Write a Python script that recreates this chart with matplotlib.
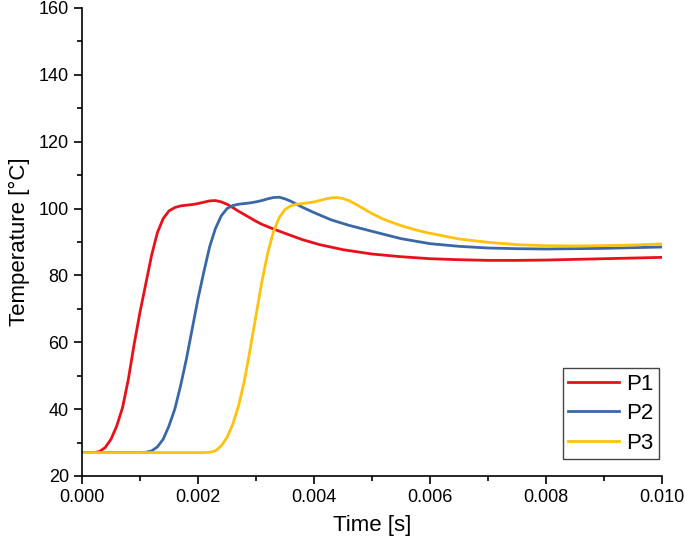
import matplotlib
matplotlib.use('Agg')
from matplotlib import pyplot as plt
from matplotlib.ticker import MultipleLocator, FormatStrFormatter

# P1
t_p1 = [0.0000, 0.0002, 0.0003, 0.0004, 0.0005, 0.0006, 0.0007, 0.0008, 0.0009,
        0.0010, 0.0011, 0.0012, 0.0013, 0.0014, 0.0015, 0.0016, 0.0017, 0.0018,
        0.0019, 0.0020, 0.0021, 0.0022, 0.0023, 0.0024, 0.0025, 0.0026, 0.0027,
        0.0028, 0.0029, 0.0030, 0.0031, 0.0032, 0.0033, 0.0035, 0.0038, 0.0041,
        0.0045, 0.0050, 0.0055, 0.0060, 0.0065, 0.0070, 0.0075, 0.0080, 0.0085,
        0.0090, 0.0095, 0.0100]
T_p1 = [27.0, 27.0, 27.3, 28.5, 31.0, 35.0, 40.5, 49.0, 59.5,
        69.0, 77.5, 86.0, 92.8, 97.0, 99.3, 100.3, 100.8, 101.0,
        101.2, 101.5, 101.9, 102.3, 102.4, 102.0, 101.3, 100.3, 99.2,
        98.2, 97.2, 96.2, 95.3, 94.6, 93.9, 92.6, 90.7, 89.2,
        87.7, 86.4, 85.6, 85.0, 84.7, 84.5, 84.5, 84.6, 84.8,
        85.0, 85.2, 85.4]

# P2
t_p2 = [0.0000, 0.0010, 0.0011, 0.0012, 0.0013, 0.0014, 0.0015, 0.0016, 0.0017,
        0.0018, 0.0019, 0.0020, 0.0021, 0.0022, 0.0023, 0.0024, 0.0025, 0.0026,
        0.0027, 0.0028, 0.0029, 0.0030, 0.0031, 0.0032, 0.0033, 0.0034, 0.0035,
        0.0036, 0.0037, 0.0038, 0.0040, 0.0043, 0.0046, 0.0050, 0.0055, 0.0060,
        0.0065, 0.0070, 0.0075, 0.0080, 0.0085, 0.0090, 0.0095, 0.0100]
T_p2 = [27.0, 27.0, 27.1, 27.5, 28.7, 31.0, 35.0, 40.0, 47.0,
        55.0, 64.0, 73.0, 81.0, 88.5, 94.0, 97.8, 100.0, 100.9,
        101.3, 101.5, 101.7, 102.0, 102.4, 102.9, 103.3, 103.4, 102.9,
        102.2, 101.3, 100.4, 98.8, 96.6, 95.0, 93.2, 91.0, 89.5,
        88.7, 88.2, 88.0, 87.9, 88.0, 88.1, 88.3, 88.5]

# P3
t_p3 = [0.0000, 0.0021, 0.0022, 0.0023, 0.0024, 0.0025, 0.0026, 0.0027, 0.0028,
        0.0029, 0.0030, 0.0031, 0.0032, 0.0033, 0.0034, 0.0035, 0.0036, 0.0037,
        0.0038, 0.0039, 0.0040, 0.0041, 0.0042, 0.0043, 0.0044, 0.0045, 0.0046,
        0.0047, 0.0048, 0.0049, 0.0050, 0.0052, 0.0055, 0.0058, 0.0060, 0.0065,
        0.0070, 0.0075, 0.0080, 0.0085, 0.0090, 0.0095, 0.0100]
T_p3 = [27.0, 27.0, 27.1, 27.5, 29.0, 31.5, 35.5, 41.0, 48.5,
        58.0, 68.0, 78.0, 86.5, 93.0, 97.3, 99.7, 100.8, 101.3,
        101.5, 101.7, 102.0, 102.4, 102.9, 103.2, 103.3, 103.0, 102.4,
        101.5, 100.5, 99.5, 98.5, 96.8, 94.9, 93.4, 92.6, 90.9,
        89.9, 89.2, 88.9, 88.8, 88.9, 89.1, 89.4]

labels = ['P1', 'P2', 'P3']
colors = ['#E8101A', '#3A68A5', '#FFC20E']

plt.rcParams['font.family'] = ['Liberation Sans', 'DejaVu Sans']

fig = plt.figure(figsize=(6.85, 5.47), dpi=100)
ax = fig.add_axes([0.1197, 0.1298, 0.8467, 0.8556])

for t, T, lab, col in zip([t_p1, t_p2, t_p3], [T_p1, T_p2, T_p3], labels, colors):
    ax.plot(t, T, color=col, linewidth=2.0, label=lab)

ax.set_xlim(0, 0.010)
ax.set_ylim(20, 160)
ax.xaxis.set_major_locator(MultipleLocator(0.002))
ax.xaxis.set_minor_locator(MultipleLocator(0.001))
ax.xaxis.set_major_formatter(FormatStrFormatter('%.3f'))
ax.yaxis.set_major_locator(MultipleLocator(20))
ax.yaxis.set_minor_locator(MultipleLocator(10))

for side in ['top', 'right']:
    ax.spines[side].set_visible(False)
for side in ['left', 'bottom']:
    ax.spines[side].set_linewidth(1.2)

ax.tick_params(which='major', direction='out', length=6, width=1.2, labelsize=13)
ax.tick_params(which='minor', direction='out', length=3.5, width=1.2)

ax.set_xlabel('Time [s]', fontsize=16, labelpad=6)
ax.set_ylabel('Temperature [°C]', fontsize=16, labelpad=6)

leg = ax.legend(loc='lower right', bbox_to_anchor=(0.995, 0.036), fontsize=16,
                fancybox=False, edgecolor='#444444', framealpha=1,
                borderpad=0.25, handlelength=2.3, handletextpad=0.3,
                labelspacing=0.38, borderaxespad=0)
leg.get_frame().set_linewidth(1.0)

fig.savefig('out.png', dpi=100)
